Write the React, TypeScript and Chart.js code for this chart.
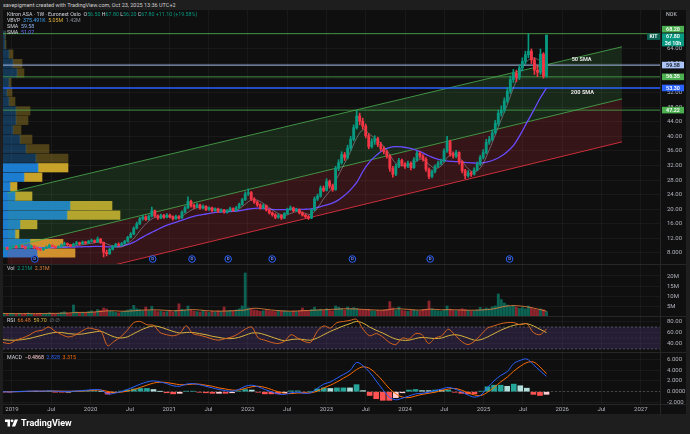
import React, { useEffect, useRef } from "react";
import { Chart, registerables } from "chart.js";

Chart.register(...registerables);

// ================= DATA =================
// bi-weekly candles (fractional-year time index)
const candleStart = 2018.9006;
const candleStepDays = 14;
const firstOpen = 9.2;

const closes = [
  9.4, 9.1, 9.6, 9.8, 9.5, 10.0, 9.7, 9.3, 9.6, 9.9, 9.4, 9.1, 8.9, 9.3, 9.6, 10.1, 9.8, 9.5, 9.7, 10.2, 10.6, 10.3, 9.9, 10.4, 10.8, 10.5, 11.0, 10.7, 11.2,
  11.4, 11.0, 11.8, 10.9, 8.2, 7.8, 9.0, 9.8, 10.4, 10.1, 10.6, 11.2, 12.3, 13.2, 14.8, 16.0, 17.4, 17.9, 17.2, 18.1, 19.6, 18.2, 17.6, 18.3, 17.8, 18.4,
  17.9, 17.4, 18.0, 17.6, 19.2, 20.4, 22.2, 21.0, 20.6, 21.2, 20.3, 20.8, 19.9, 20.4, 19.6, 20.1, 19.4, 19.8, 19.2, 19.6, 20.2, 19.7, 20.4, 21.3, 22.6, 24.2,
  24.6, 22.8, 22.0, 21.2, 20.4, 21.0, 19.8, 19.0, 18.5, 17.8, 18.3, 17.6, 18.8, 19.9, 20.4, 19.6, 19.9, 19.0, 18.4, 18.0, 17.6, 19.8, 22.8, 23.6, 25.8, 25.2,
  27.6, 26.4, 25.4, 31.2, 32.8, 35.0, 34.2, 36.8, 39.2, 42.4, 45.6, 44.2, 42.8, 40.2, 37.2, 38.6, 39.4, 37.8, 36.6, 35.8, 34.6, 31.2, 29.6, 31.8, 33.4, 32.4,
  31.8, 32.6, 31.4, 33.6, 35.4, 34.6, 33.8, 31.0, 29.0, 30.4, 31.8, 32.6, 33.2, 36.0, 38.6, 35.2, 34.6, 35.6, 33.0, 30.6, 29.2, 30.0, 29.6, 30.8, 32.4, 34.2,
  35.6, 38.4, 39.2, 41.0, 43.6, 46.4, 47.2, 49.8, 52.4, 55.6, 57.4, 56.2, 58.8, 60.6, 62.4, 63.4, 61.0, 58.2, 57.6, 62.6, 56.5, 67.8,
];
const highs = [
  9.7, 9.6, 9.9, 10.1, 10.0, 10.3, 10.2, 9.8, 9.8, 10.2,
  10.0, 9.6, 9.3, 9.5, 9.9, 10.4, 10.3, 9.9, 10.0, 10.5,
  11.0, 10.8, 10.4, 10.7, 11.2, 11.0, 11.3, 11.2, 11.5, 11.8,
  11.6, 12.4, 12.0, 11.0, 8.8, 9.3, 10.1, 10.7, 10.8, 10.9,
  11.5, 12.6, 13.6, 15.2, 16.5, 17.8, 18.4, 18.2, 18.5, 20.6,
  19.8, 18.5, 18.7, 18.6, 18.8, 18.7, 18.2, 18.4, 18.3, 19.6,
  20.9, 23.4, 22.5, 21.4, 21.7, 21.4, 21.2, 21.0, 20.7, 20.6,
  20.4, 20.3, 20.1, 20.0, 19.9, 20.6, 20.4, 20.8, 21.7, 23.0,
  24.8, 25.6, 24.9, 23.2, 22.3, 21.5, 21.4, 21.2, 20.1, 19.3,
  18.8, 18.7, 18.5, 19.1, 20.3, 20.9, 20.6, 20.3, 20.1, 19.3,
  18.7, 18.3, 20.1, 23.4, 24.2, 26.4, 26.4, 28.4, 28.0, 26.9,
  31.8, 33.6, 35.8, 35.6, 37.6, 40.0, 43.2, 47.2, 46.4, 45.0,
  43.4, 40.8, 39.4, 40.2, 39.8, 38.4, 37.2, 36.2, 35.0, 31.8,
  32.4, 34.0, 33.8, 32.8, 33.2, 33.0, 34.2, 36.0, 35.8, 35.0,
  34.2, 31.4, 30.8, 32.2, 33.2, 33.8, 36.6, 40.0, 39.0, 35.8,
  36.2, 35.8, 33.4, 31.0, 30.6, 30.4, 31.4, 33.0, 34.8, 36.4,
  39.2, 40.0, 41.8, 44.4, 47.2, 48.4, 50.6, 53.4, 56.6, 58.4,
  58.2, 59.6, 61.6, 63.4, 68.2, 64.0, 61.6, 59.4, 64.0, 63.0,
  67.8,
];
const lows = [
  9.0, 8.9, 9.0, 9.4, 9.3, 9.4, 9.5, 9.1, 9.1, 9.5,
  9.2, 8.9, 8.6, 8.7, 9.2, 9.5, 9.6, 9.3, 9.3, 9.6,
  10.1, 10.0, 9.7, 9.8, 10.3, 10.2, 10.4, 10.5, 10.6, 11.0,
  10.8, 10.9, 10.6, 6.9, 7.2, 7.6, 8.8, 9.6, 9.9, 10.0,
  10.4, 11.0, 12.1, 13.0, 14.6, 15.8, 17.0, 16.9, 17.0, 17.9,
  17.9, 17.2, 17.4, 17.5, 17.6, 17.6, 17.0, 17.2, 17.3, 17.5,
  19.0, 20.2, 20.6, 20.2, 20.4, 20.0, 20.1, 19.6, 19.7, 19.3,
  19.4, 19.1, 19.2, 18.9, 18.9, 19.4, 19.4, 19.5, 20.2, 21.1,
  22.4, 23.8, 22.4, 21.6, 20.8, 20.0, 20.1, 19.5, 18.7, 18.1,
  17.4, 17.5, 17.2, 17.4, 18.6, 19.7, 19.3, 19.3, 18.7, 18.1,
  17.6, 17.2, 17.4, 19.6, 22.4, 23.3, 24.8, 25.0, 25.8, 24.9,
  25.2, 30.6, 32.4, 33.4, 33.8, 36.2, 38.8, 42.0, 43.2, 42.0,
  39.6, 36.6, 36.8, 37.8, 37.2, 36.0, 35.2, 34.0, 30.4, 28.8,
  29.2, 31.4, 31.8, 31.2, 31.4, 30.8, 31.2, 33.2, 34.0, 33.2,
  30.4, 28.4, 28.6, 30.0, 31.4, 32.2, 33.0, 35.6, 34.6, 34.0,
  34.2, 32.4, 30.0, 28.4, 28.8, 29.0, 29.4, 30.6, 32.0, 33.8,
  35.2, 37.8, 38.8, 40.6, 43.0, 45.6, 46.6, 49.2, 51.8, 54.8,
  55.0, 55.6, 58.0, 59.8, 61.6, 60.0, 57.0, 56.4, 57.0, 56.0,
  56.2,
];
// weekly volume (millions)
const volumes = [
  1.2, 1.0, 1.4, 1.1, 0.9, 1.3, 1.0, 1.2, 1.5, 1.1, 0.9, 1.2, 1.4, 1.0, 1.1, 1.6, 1.3, 1.0, 1.2, 1.8, 2.1, 1.4, 1.2, 5.5, 2.0, 1.5, 1.8, 1.4, 2.2,
  2.6, 2.0, 3.2, 2.8, 4.0, 3.5, 2.4, 2.2, 1.8, 1.6, 2.0, 2.4, 3.0, 3.4, 5.3, 3.6, 3.2, 2.6, 4.5, 2.8, 4.8, 2.6, 2.2, 2.4, 2.0, 2.2,
  2.4, 2.0, 2.8, 6.1, 3.4, 3.0, 5.0, 3.0, 2.4, 2.2, 2.0, 2.6, 2.2, 1.8, 2.4, 2.0, 2.6, 2.2, 4.5, 2.4, 2.8, 2.6, 3.0, 3.6, 5.0, 21.5,
  4.0, 3.6, 3.0, 2.8, 2.4, 2.6, 3.0, 2.6, 2.4, 2.2, 2.8, 2.4, 2.6, 2.2, 2.0, 2.4, 2.2, 2.6, 4.0, 2.8, 2.4, 3.2, 4.4, 3.0, 3.4, 2.8,
  3.6, 2.8, 2.6, 5.0, 4.4, 3.8, 3.0, 4.5, 3.6, 4.2, 3.8, 3.2, 3.0, 2.8, 3.4, 2.6, 2.4, 2.8, 2.6, 3.0, 3.2, 7.2, 4.0, 3.0, 4.5, 2.8,
  2.6, 2.4, 2.8, 3.0, 2.6, 2.4, 3.2, 3.4, 7.5, 3.6, 2.8, 2.6, 2.4, 3.0, 5.0, 3.4, 2.8, 2.6, 3.0, 3.6, 3.2, 2.8, 2.4, 2.6, 3.0, 4.3,
  3.4, 4.0, 3.6, 4.6, 5.0, 11.0, 8.2, 6.5, 5.5, 4.8, 5.2, 4.4, 3.8, 4.2, 3.6, 5.0, 4.0, 3.4, 3.0, 3.6, 3.2, 2.2,
];

// monthly samples of the indicator lines
const monthStart = 2018.8;
const volumeMA = [
  1.3, 1.3, 1.2, 1.2, 1.2, 1.2, 1.2, 1.2, 1.3, 1.3, 1.4, 1.5, 1.7, 1.8, 1.8,
  2.0, 2.3, 2.6, 2.6, 2.4, 2.4, 2.6, 2.9, 3.0, 3.1, 3.0, 2.8,
  2.6, 2.7, 3.0, 3.2, 3.0, 2.7, 2.5, 2.4, 2.5, 2.6, 2.8, 3.0,
  3.8, 3.8, 3.4, 3.0, 2.7, 2.5, 2.4, 2.5, 2.7, 2.8, 3.0, 3.1,
  3.3, 3.4, 3.6, 3.6, 3.5, 3.3, 3.1, 3.0, 2.9, 3.2, 3.6, 3.5,
  3.3, 3.0, 3.0, 3.4, 3.3, 3.1, 3.2, 3.1, 3.0, 2.9, 2.9, 3.0,
  3.2, 3.6, 4.4, 5.0, 5.2, 5.0, 4.6, 4.0, 3.2, 2.4,
];
const smaFast = [
  9.3, 9.3, 9.4, 9.5, 9.6, 9.6, 9.5, 9.3, 9.3, 9.5,
  9.7, 9.8, 10.0, 10.2, 10.5, 10.8, 11.1, 10.4, 9.8, 9.6,
  10.5, 12.0, 14.3, 16.3, 17.6, 18.0, 18.1, 17.9, 17.8, 18.9,
  20.0, 20.6, 20.5, 20.1, 19.9, 19.6, 19.6, 20.0, 21.4, 22.6,
  22.4, 21.3, 20.0, 18.9, 18.3, 18.9, 19.4, 19.0, 18.6, 20.2,
  23.0, 25.2, 28.5, 32.0, 35.5, 39.5, 41.8, 40.6, 39.2, 37.6,
  35.2, 32.6, 32.0, 32.1, 33.0, 33.8, 32.4, 31.2, 32.0, 34.5,
  35.2, 33.6, 31.2, 30.2, 31.6, 35.2, 39.6, 44.2, 48.6, 53.6,
  57.6, 60.6, 61.5, 60.8, 59.6,
];
const smaSlow = [
  9.5, 9.55, 9.6, 9.6, 9.6, 9.6, 9.55, 9.5, 9.5, 9.5,
  9.55, 9.6, 9.65, 9.7, 9.75, 9.8, 9.8, 9.7, 9.7, 9.9,
  10.3, 11.0, 12.0, 13.0, 13.9, 14.8, 15.6, 16.2, 16.8, 17.4,
  18.0, 18.4, 18.7, 19.0, 19.2, 19.3, 19.4, 19.6, 19.9, 20.2,
  20.3, 20.2, 20.0, 19.9, 19.9, 20.0, 20.0, 20.0, 20.1, 20.5,
  21.0, 21.5, 22.3, 23.6, 25.2, 27.3, 30.5, 33.0, 34.8, 36.2,
  36.9, 37.2, 37.1, 36.8, 36.3, 35.6, 34.7, 34.0, 33.5, 33.2,
  33.1, 33.0, 32.8, 32.7, 32.7, 33.0, 33.6, 34.5, 35.8, 37.6,
  40.5, 43.8, 47.0, 50.4, 53.3,
];
const rsi = [
  44, 42, 40, 46, 50, 55, 62, 64, 70, 62,
  56, 52, 55, 62, 68, 66, 62, 36, 44, 52,
  64, 78, 80, 74, 73, 60, 56, 54, 58, 72,
  58, 55, 52, 48, 46, 49, 52, 58, 66, 70,
  50, 46, 42, 40, 44, 56, 50, 44, 42, 62,
  72, 68, 78, 80, 82, 84, 66, 54, 58, 52,
  42, 38, 50, 48, 58, 56, 40, 50, 54, 66,
  56, 44, 38, 44, 56, 68, 72, 76, 78, 78,
  74, 76, 60, 56, 66.48,
];
const rsiMA = [
  48, 47, 46, 46, 47, 49, 52, 55, 58, 60,
  60, 58, 57, 57, 59, 61, 62, 57, 52, 50,
  52, 58, 64, 69, 72, 70, 66, 62, 59, 60,
  60, 58, 56, 53, 51, 49, 49, 51, 55, 59,
  59, 56, 52, 48, 45, 47, 48, 47, 46, 50,
  56, 62, 67, 72, 76, 80, 77, 70, 64, 59,
  53, 48, 46, 46, 49, 51, 50, 49, 50, 54,
  56, 54, 50, 46, 47, 52, 58, 64, 69, 73,
  75, 76, 72, 66, 59.7,
];
const macdLine = [
  0.05, 0.0, -0.05, 0.0, 0.05, 0.1, 0.12, 0.1, 0.15, 0.1,
  0.05, 0.05, 0.1, 0.2, 0.3, 0.4, 0.3, -0.4, -0.3, 0.0,
  0.4, 0.9, 1.4, 1.8, 2.0, 1.8, 1.5, 1.1, 1.0, 1.4,
  1.5, 1.3, 1.0, 0.7, 0.4, 0.2, 0.1, 0.4, 1.0, 1.2,
  0.9, 0.4, 0.0, -0.4, -0.5, -0.2, -0.1, -0.3, -0.2, 0.6,
  1.4, 1.8, 2.5, 3.2, 3.9, 5.4, 4.8, 3.6, 2.0, 0.4,
  -1.0, -1.5, -1.2, -0.8, -0.4, -0.3, -0.1, 0.2, 0.5, 0.8,
  0.5, 0.0, -0.6, -1.0, -0.6, 0.8, 2.0, 3.0, 3.7, 5.2,
  5.8, 6.05, 5.0, 3.9, 2.828,
];
const signalLine = [
  0.05, 0.03, 0.0, 0.0, 0.02, 0.05, 0.08, 0.1, 0.12, 0.12,
  0.1, 0.08, 0.08, 0.12, 0.18, 0.25, 0.3, 0.05, -0.15, -0.1,
  0.1, 0.4, 0.8, 1.2, 1.6, 1.75, 1.7, 1.5, 1.3, 1.3,
  1.4, 1.4, 1.2, 1.0, 0.7, 0.5, 0.3, 0.3, 0.6, 0.9,
  1.0, 0.8, 0.4, 0.0, -0.3, -0.35, -0.25, -0.2, -0.2, 0.1,
  0.7, 1.2, 1.8, 2.5, 3.2, 4.1, 4.6, 4.3, 3.3, 2.0,
  0.6, -0.4, -1.0, -1.1, -0.8, -0.5, -0.3, -0.1, 0.2, 0.5,
  0.6, 0.3, -0.2, -0.6, -0.7, -0.1, 0.8, 1.8, 2.7, 3.8,
  4.7, 5.4, 5.5, 4.6, 3.315,
];

// parallel channel (two anchor points each)
const channelTimes = [2018.94, 2026.76];
const channelUpper = [24.5, 64.6];
const channelMiddle = [9.37, 50.3];
const channelLower = [-2.4, 38.5];

// horizontal levels
const levelValues = [68.2, 59.58, 56.35, 53.3, 47.22];
const lastPrice = 67.8;
const countdownText = "3d 10h";
const symbolTag = "KIT";

// visible-range volume profile
const vpLevels = [8.0, 10.6, 13.2, 15.8, 18.4, 21.0, 23.6, 26.2, 28.8, 31.4, 34.0, 36.6, 39.2, 41.8, 44.4, 47.0, 49.6, 52.2, 54.8, 57.4, 60.0, 62.6, 65.2, 67.8];
const vpUp = [34, 27, 12, 17, 64, 67, 12, 7, 21, 35, 33, 23, 17, 10, 13, 13, 6, 4, 6, 14, 10, 6, 2, 2];
const vpDown = [38, 33, 4, 17, 53, 42, 17, 7, 18, 30, 32, 23, 12, 8, 12, 14, 6, 5, 2, 7, 9, 4, 1, 0.5];
const vpValueArea = [true, true, true, true, true, true, true, true, true, true, false, false, false, false, false, false, false, false, false, false, false, false, false, false];

const dividendTimes = [2019.29, 2020.79, 2021.29, 2021.75, 2022.31, 2023.33, 2024.32, 2025.33];

const priceTicks = [8, 12, 16, 20, 24, 28, 32, 36, 40, 44, 48, 52, 56, 60, 64];
const volumeTicks = [5, 10, 15, 20];
const rsiTicks = [40, 60, 80];
const rsiBands = [70, 50, 30];
const macdTicks = [-2, 0, 2, 4, 6];
const timeTicks = [2019, 2019.5, 2020, 2020.5, 2021, 2021.5, 2022, 2022.5, 2023, 2023.5, 2024, 2024.5, 2025, 2025.5, 2026, 2026.5, 2027];

// ================= STYLE / LAYOUT =================
const X_MIN = 2018.8855;
const X_MAX = 2027.244;
const FONT = 'Roboto, "Noto Sans", "DejaVu Sans", sans-serif';
const GRID = "rgba(255,255,255,0.045)";
const AXIS_TXT = "#b2b5be";
const UP = "#089981";
const DOWN = "#f23645";
const AXIS_W = 26;
const CANVAS_W = 683;
const PRICE_RANGE = [4.98, 74.7];
const VOL_RANGE = [0, 26];
const RSI_RANGE = [24.5, 90];
const MACD_RANGE = [-2.28, 7.35];
const DIVIDEND_Y = 6.35;
const levelStyles = [
  { color: "rgba(76,175,80,0.85)", width: 1, bg: "#4caf50", fg: "#ffffff", dy: -4.5 },
  { color: "rgba(160,182,224,0.85)", width: 1.3, bg: "#a9c4f5", fg: "#131722", dy: 0 },
  { color: "rgba(76,175,80,0.8)", width: 1, bg: "#4caf50", fg: "#ffffff", dy: 0 },
  { color: "#2962ff", width: 1.5, bg: "#2962ff", fg: "#ffffff", dy: 0 },
  { color: "rgba(76,175,80,0.8)", width: 1, bg: "#4caf50", fg: "#ffffff", dy: 0 },
];
const textNotes = [
  { text: "50 SMA", t: 2026.12, p: 61.0 },
  { text: "200 SMA", t: 2026.11, p: 51.9 },
];

const candleStep = candleStepDays / 365.25;
const xy = (ts: number[], vs: number[]) => vs.map((v, i) => ({ x: ts[i], y: v }));

function xScale(showLabels: boolean) {
  return {
    type: "linear",
    position: "bottom",
    min: X_MIN,
    max: X_MAX,
    offset: false,
    grid: { color: GRID, drawTicks: false, offset: false },
    border: { display: false },
    ticks: {
      display: showLabels,
      color: AXIS_TXT,
      font: { size: 6, family: FONT },
      padding: 2,
      autoSkip: false,
      maxRotation: 0,
      callback: (v: any) => (Number.isInteger(Number(v)) ? String(v) : "Jul"),
    },
    afterBuildTicks: (s: any) => {
      s.ticks = timeTicks.map((v) => ({ value: v }));
    },
    afterFit: (s: any) => {
      s.height = showLabels ? 10 : 0;
      s.paddingLeft = 0;
      s.paddingRight = 0;
      s.paddingTop = 0;
      s.paddingBottom = 0;
    },
  };
}

function yScale(range: number[], ticks: number[], fmt: (v: number) => string) {
  return {
    type: "linear",
    position: "right",
    min: range[0],
    max: range[1],
    offset: false,
    grid: { color: GRID, drawTicks: false, offset: false },
    border: { display: false },
    ticks: {
      color: AXIS_TXT,
      font: { size: 6, family: FONT },
      padding: 7,
      autoSkip: false,
      callback: (v: any) => fmt(Number(v)),
    },
    afterBuildTicks: (s: any) => {
      s.ticks = ticks.map((v) => ({ value: v }));
    },
    afterFit: (s: any) => {
      s.width = AXIS_W;
      s.paddingTop = 0;
      s.paddingBottom = 0;
      s.paddingLeft = 0;
      s.paddingRight = 0;
    },
  };
}

const baseOptions = () => ({
  animation: false,
  responsive: false,
  maintainAspectRatio: false,
  events: [],
  layout: { padding: 0, autoPadding: false },
  plugins: { legend: { display: false }, tooltip: { enabled: false } },
});

function drawBox(ctx: CanvasRenderingContext2D, left: number, cy: number, w: number, text: string, bg: string, fg: string) {
  ctx.fillStyle = bg;
  ctx.fillRect(left, cy - 3.3, w, 6.6);
  ctx.fillStyle = fg;
  ctx.font = `600 5.4px ${FONT}`;
  ctx.textAlign = "center";
  ctx.textBaseline = "middle";
  ctx.fillText(text, left + w / 2, cy + 0.3);
}

const priceOverlay = {
  id: "priceOverlay",
  afterDatasetsDraw(chart: any) {
    const { ctx, scales } = chart;
    ctx.save();
    ctx.fillStyle = "#6f8cff";
    ctx.font = `700 4.4px ${FONT}`;
    ctx.textAlign = "center";
    ctx.textBaseline = "middle";
    dividendTimes.forEach((t) => {
      ctx.fillText("D", scales.x.getPixelForValue(t), scales.y.getPixelForValue(DIVIDEND_Y) + 0.2);
    });
    ctx.fillStyle = "#e6e6e6";
    ctx.font = `700 5.6px ${FONT}`;
    ctx.textAlign = "left";
    textNotes.forEach((n) => {
      ctx.fillText(n.text, scales.x.getPixelForValue(n.t), scales.y.getPixelForValue(n.p));
    });
    ctx.restore();
  },
  afterDraw(chart: any) {
    const { ctx, scales, chartArea } = chart;
    ctx.save();
    const left = chartArea.right + 2;
    const w = 22;
    levelValues.forEach((v, i) => {
      const st = levelStyles[i];
      drawBox(ctx, left, scales.y.getPixelForValue(v) + st.dy, w, v.toFixed(2), st.bg, st.fg);
    });
    const py = scales.y.getPixelForValue(lastPrice) + 1.5;
    drawBox(ctx, left, py, w, lastPrice.toFixed(2), UP, "#ffffff");
    drawBox(ctx, left, py + 6.4, w, countdownText, UP, "#ffffff");
    drawBox(ctx, chartArea.right - 13, py, 13, symbolTag, "#0b5f52", "#ffffff");
    ctx.restore();
  },
};

function buildPriceConfig(): any {
  const times = closes.map((_, i) => candleStart + i * candleStep);
  const opens = closes.map((_, i) => (i === 0 ? firstOpen : closes[i - 1]));
  const colors = closes.map((c, i) => (c >= opens[i] ? UP : DOWN));
  const monthTimes = smaFast.map((_, k) => monthStart + k / 12);
  return {
    type: "bar",
    data: {
      datasets: [
        {
          type: "bar",
          indexAxis: "y",
          xAxisID: "vp",
          yAxisID: "y",
          data: vpLevels.map((p, j) => ({ y: p, x: [0, vpUp[j]] })),
          backgroundColor: vpLevels.map((_, j) => (vpValueArea[j] ? "rgba(30,136,229,0.9)" : "rgba(30,136,229,0.33)")),
          barThickness: 8.5,
          grouped: false,
          order: 30,
        },
        {
          type: "bar",
          indexAxis: "y",
          xAxisID: "vp",
          yAxisID: "y",
          data: vpLevels.map((p, j) => ({ y: p, x: [vpUp[j], vpUp[j] + vpDown[j]] })),
          backgroundColor: vpLevels.map((_, j) => (vpValueArea[j] ? "rgba(222,180,44,0.9)" : "rgba(210,170,44,0.33)")),
          barThickness: 8.5,
          grouped: false,
          order: 30,
        },
        {
          type: "line",
          xAxisID: "x",
          yAxisID: "y",
          data: xy(channelTimes, channelUpper),
          borderColor: "rgba(76,175,80,0.8)",
          borderWidth: 1,
          pointRadius: 0,
          fill: "+1",
          backgroundColor: "rgba(76,175,80,0.16)",
          order: 20,
        },
        {
          type: "line",
          xAxisID: "x",
          yAxisID: "y",
          data: xy(channelTimes, channelMiddle),
          borderColor: "rgba(76,175,80,0.8)",
          borderWidth: 1,
          pointRadius: 0,
          fill: "+1",
          backgroundColor: "rgba(242,54,69,0.17)",
          order: 19,
        },
        {
          type: "line",
          xAxisID: "x",
          yAxisID: "y",
          data: xy(channelTimes, channelLower),
          borderColor: "rgba(242,54,69,0.8)",
          borderWidth: 1,
          pointRadius: 0,
          fill: false,
          order: 18,
        },
        ...levelValues.map((v, i) => ({
          type: "line",
          xAxisID: "x",
          yAxisID: "y",
          data: [
            { x: X_MIN, y: v },
            { x: X_MAX, y: v },
          ],
          borderColor: levelStyles[i].color,
          borderWidth: levelStyles[i].width,
          pointRadius: 0,
          fill: false,
          order: 10,
        })),
        {
          type: "line",
          xAxisID: "x",
          yAxisID: "y",
          data: xy(monthTimes, smaSlow),
          borderColor: "#6a4cff",
          borderWidth: 1.3,
          pointRadius: 0,
          tension: 0.35,
          fill: false,
          order: 6,
        },
        {
          type: "line",
          xAxisID: "x",
          yAxisID: "y",
          data: xy(monthTimes, smaFast),
          borderColor: "rgba(190,192,210,0.55)",
          borderWidth: 0.8,
          pointRadius: 0,
          tension: 0.35,
          fill: false,
          order: 5,
        },
        {
          type: "bar",
          xAxisID: "x",
          yAxisID: "y",
          data: times.map((t, i) => ({ x: t, y: [Math.min(lows[i], opens[i], closes[i]), Math.max(highs[i], opens[i], closes[i])] })),
          backgroundColor: colors,
          barThickness: 1,
          grouped: false,
          order: 3,
        },
        {
          type: "bar",
          xAxisID: "x",
          yAxisID: "y",
          data: times.map((t, i) => ({ x: t, y: [opens[i], closes[i]] })),
          backgroundColor: colors,
          barThickness: 2.2,
          grouped: false,
          order: 2,
        },
        {
          type: "scatter",
          xAxisID: "x",
          yAxisID: "y",
          data: dividendTimes.map((t) => ({ x: t, y: DIVIDEND_Y })),
          pointRadius: 3.3,
          pointBackgroundColor: "#0f0f0f",
          pointBorderColor: "#2962ff",
          pointBorderWidth: 1,
          order: 1,
        },
      ],
    },
    options: {
      ...baseOptions(),
      scales: {
        x: xScale(false),
        y: yScale(PRICE_RANGE, priceTicks, (v) => (v < 10 ? v.toFixed(3) : v.toFixed(2))),
        vp: { type: "linear", axis: "x", display: false, min: 0, max: CANVAS_W - AXIS_W, offset: false },
      },
    },
    plugins: [priceOverlay],
  };
}

function buildVolumeConfig(): any {
  const times = closes.map((_, i) => candleStart + i * candleStep);
  const opens = closes.map((_, i) => (i === 0 ? firstOpen : closes[i - 1]));
  const monthTimes = volumeMA.map((_, k) => monthStart + k / 12);
  return {
    type: "bar",
    data: {
      datasets: [
        {
          type: "bar",
          xAxisID: "x",
          yAxisID: "y",
          data: volumes.map((v, i) => ({ x: times[i], y: v })),
          backgroundColor: volumes.map((_, i) => (closes[i] >= opens[i] ? "rgba(8,153,129,0.6)" : "rgba(242,54,69,0.55)")),
          barThickness: 2.2,
          grouped: false,
          order: 2,
        },
        {
          type: "line",
          xAxisID: "x",
          yAxisID: "y",
          data: xy(monthTimes, volumeMA),
          borderColor: "rgba(226,128,62,0.85)",
          borderWidth: 1,
          pointRadius: 0,
          tension: 0.35,
          fill: false,
          order: 1,
        },
      ],
    },
    options: {
      ...baseOptions(),
      scales: { x: xScale(false), y: yScale(VOL_RANGE, volumeTicks, (v) => `${v}M`) },
    },
  };
}

function buildRsiConfig(): any {
  const monthTimes = rsi.map((_, k) => monthStart + k / 12);
  const band = (v: number) => [
    { x: X_MIN, y: v },
    { x: X_MAX, y: v },
  ];
  return {
    type: "line",
    data: {
      datasets: [
        {
          data: band(rsiBands[0]),
          borderColor: "rgba(140,140,150,0.7)",
          borderWidth: 0.7,
          borderDash: [2, 2],
          pointRadius: 0,
          fill: "+1",
          backgroundColor: "rgba(126,87,194,0.2)",
          order: 10,
        },
        {
          data: band(rsiBands[2]),
          borderColor: "rgba(140,140,150,0.7)",
          borderWidth: 0.7,
          borderDash: [2, 2],
          pointRadius: 0,
          fill: false,
          order: 9,
        },
        {
          data: band(rsiBands[1]),
          borderColor: "rgba(140,140,150,0.35)",
          borderWidth: 0.6,
          borderDash: [2, 2],
          pointRadius: 0,
          fill: false,
          order: 8,
        },
        {
          data: xy(monthTimes, rsiMA),
          borderColor: "#d9b43c",
          borderWidth: 1,
          pointRadius: 0,
          tension: 0.35,
          fill: false,
          order: 2,
        },
        {
          data: xy(monthTimes, rsi),
          borderColor: "#d9661f",
          borderWidth: 1,
          pointRadius: 0,
          tension: 0.3,
          fill: false,
          order: 1,
        },
      ],
    },
    options: {
      ...baseOptions(),
      scales: { x: xScale(false), y: yScale(RSI_RANGE, rsiTicks, (v) => v.toFixed(2)) },
    },
  };
}

function buildMacdConfig(): any {
  const monthTimes = macdLine.map((_, k) => monthStart + k / 12);
  const hist = macdLine.map((m, k) => m - signalLine[k]);
  const histColors = hist.map((h, k) => {
    const prev = k > 0 ? hist[k - 1] : h;
    if (h >= 0) return h >= prev ? "#26a69a" : "#b2dfdb";
    return h <= prev ? "#ff5252" : "#ffcdd2";
  });
  return {
    type: "bar",
    data: {
      datasets: [
        {
          type: "line",
          xAxisID: "x",
          yAxisID: "y",
          data: [
            { x: X_MIN, y: 0 },
            { x: X_MAX, y: 0 },
          ],
          borderColor: "rgba(140,140,150,0.55)",
          borderWidth: 0.7,
          borderDash: [2, 2],
          pointRadius: 0,
          fill: false,
          order: 10,
        },
        {
          type: "bar",
          xAxisID: "x",
          yAxisID: "y",
          data: hist.map((h, k) => ({ x: monthTimes[k], y: h })),
          backgroundColor: histColors,
          barThickness: 5,
          grouped: false,
          order: 5,
        },
        {
          type: "line",
          xAxisID: "x",
          yAxisID: "y",
          data: xy(monthTimes, signalLine),
          borderColor: "#ff6d00",
          borderWidth: 1,
          pointRadius: 0,
          tension: 0.35,
          fill: false,
          order: 2,
        },
        {
          type: "line",
          xAxisID: "x",
          yAxisID: "y",
          data: xy(monthTimes, macdLine),
          borderColor: "#2962ff",
          borderWidth: 1,
          pointRadius: 0,
          tension: 0.35,
          fill: false,
          order: 1,
        },
      ],
    },
    options: {
      ...baseOptions(),
      scales: {
        x: xScale(true),
        y: yScale(MACD_RANGE, macdTicks, (v) => (v === 0 ? "0.0000" : v.toFixed(3))),
      },
    },
  };
}

const legendStyle: React.CSSProperties = {
  position: "absolute",
  left: 7,
  fontSize: 5.3,
  lineHeight: "6px",
  color: "#d1d4dc",
  whiteSpace: "nowrap",
};

export default function App() {
  const priceRef = useRef<HTMLCanvasElement>(null);
  const volRef = useRef<HTMLCanvasElement>(null);
  const rsiRef = useRef<HTMLCanvasElement>(null);
  const macdRef = useRef<HTMLCanvasElement>(null);

  useEffect(() => {
    document.body.style.margin = "0";
    const charts = [
      new Chart(priceRef.current as HTMLCanvasElement, buildPriceConfig()),
      new Chart(volRef.current as HTMLCanvasElement, buildVolumeConfig()),
      new Chart(rsiRef.current as HTMLCanvasElement, buildRsiConfig()),
      new Chart(macdRef.current as HTMLCanvasElement, buildMacdConfig()),
    ];
    return () => charts.forEach((c) => c.destroy());
  }, []);

  const canvasStyle = (top: number, h: number): React.CSSProperties => ({
    position: "absolute",
    left: 3,
    top,
    width: CANVAS_W,
    height: h,
  });
  const hLine = (top: number): React.CSSProperties => ({
    position: "absolute",
    left: 3,
    top,
    width: CANVAS_W,
    height: 1,
    background: "#262626",
  });

  return (
    <div
      style={{
        position: "fixed",
        left: 0,
        top: 0,
        width: 690,
        height: 434,
        background: "#1e1e1e",
        overflow: "hidden",
        fontFamily: FONT,
      }}
    >
      <div style={{ position: "absolute", left: 3, top: 1, fontSize: 5.5, lineHeight: "8px", color: "#cfcfcf", whiteSpace: "nowrap" }}>
        savepigment created with TradingView.com, Oct 23, 2025 13:36 UTC+2
      </div>
      <div style={{ position: "absolute", left: 3, top: 10, width: CANVAS_W, height: 404, background: "#0f0f0f" }} />
      <div style={{ position: "absolute", left: 660, top: 10, width: 1, height: 404, background: "#262626" }} />
      <div style={hLine(264)} />
      <div style={hLine(316)} />
      <div style={hLine(352)} />
      <div style={hLine(404)} />

      <canvas ref={priceRef} width={CANVAS_W} height={254} style={canvasStyle(10, 254)} />
      <canvas ref={volRef} width={CANVAS_W} height={52} style={canvasStyle(264, 52)} />
      <canvas ref={rsiRef} width={CANVAS_W} height={36} style={canvasStyle(316, 36)} />
      <canvas ref={macdRef} width={CANVAS_W} height={62} style={canvasStyle(352, 62)} />

      <div style={{ ...legendStyle, top: 11 }}>
        Kitron ASA · 1W · Euronext Oslo&nbsp; <span>O</span>
        <span style={{ color: UP }}>56.50</span> <span>H</span>
        <span style={{ color: UP }}>67.80</span> <span>L</span>
        <span style={{ color: UP }}>56.20</span> <span>C</span>
        <span style={{ color: UP }}>67.80</span> <span style={{ color: UP }}>+11.10 (+19.58%)</span>
      </div>
      <div style={{ ...legendStyle, top: 17 }}>
        VBVP&nbsp; <span style={{ color: "#42a5f5" }}>375.491K</span>&nbsp; <span style={{ color: "#e0b33a" }}>5.05M</span>&nbsp;{" "}
        <span style={{ color: "#8a8d96" }}>1.42M</span>
      </div>
      <div style={{ ...legendStyle, top: 23 }}>
        SMA&nbsp; <span style={{ color: "#90b4f0" }}>59.58</span>
      </div>
      <div style={{ ...legendStyle, top: 29 }}>
        SMA&nbsp; <span style={{ color: "#6a6cff" }}>51.07</span>
      </div>
      <div style={{ ...legendStyle, top: 265 }}>
        Vol&nbsp; <span style={{ color: UP }}>2.21M</span>&nbsp; <span style={{ color: "#e2803e" }}>2.31M</span>
      </div>
      <div style={{ ...legendStyle, top: 317 }}>
        RSI&nbsp; <span style={{ color: "#e0702a" }}>66.48</span>&nbsp; <span style={{ color: "#d9b43c" }}>59.70</span>&nbsp;{" "}
        <span style={{ color: "#8a8d96" }}>∅ ∅</span>
      </div>
      <div style={{ ...legendStyle, top: 354 }}>
        MACD&nbsp; <span style={{ color: "#ffcdd2" }}>−0.4868</span>&nbsp; <span style={{ color: "#2962ff" }}>2.828</span>&nbsp;{" "}
        <span style={{ color: "#ff6d00" }}>3.315</span>
      </div>
      <div style={{ position: "absolute", left: 666, top: 11, fontSize: 5.3, lineHeight: "6px", color: "#d1d4dc" }}>NOK</div>

      <div style={{ position: "absolute", left: 5, top: 418, display: "flex", alignItems: "center", gap: 3 }}>
        <svg width="13" height="8" viewBox="0 0 36 20">
          <path d="M0 0h14v20H7V7H0z" fill="#ffffff" />
          <circle cx="19.5" cy="4" r="4" fill="#ffffff" />
          <path d="M27 0h9l-8 20h-9z" fill="#ffffff" />
        </svg>
        <span style={{ color: "#ffffff", fontSize: 9, fontWeight: 700, lineHeight: "10px" }}>TradingView</span>
      </div>
    </div>
  );
}
